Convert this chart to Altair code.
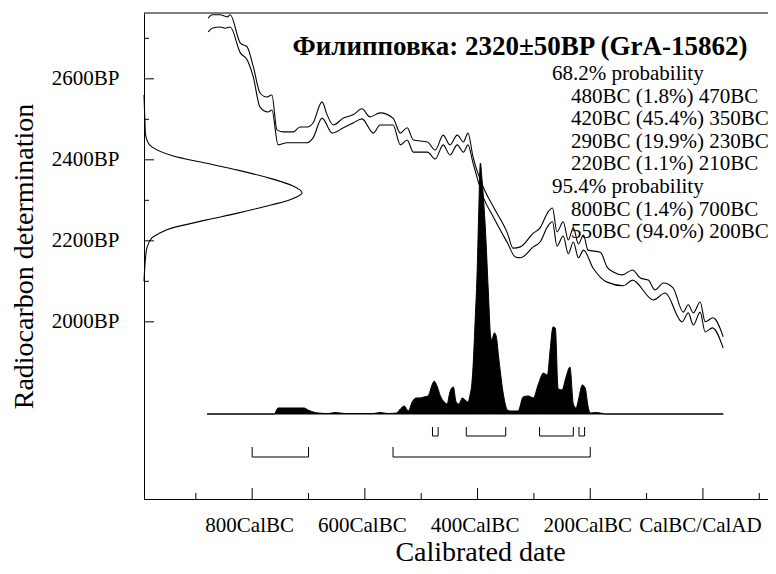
import altair as alt
import pandas as pd

FONT = "Liberation Serif"

# ---------------- data ----------------
# Calibration curve (+/- 1 sigma band), calendar year (negative = BC) vs BP
cal_up_year = [-878, -871, -857, -844, -839, -821, -809, -798, -786, -774, -765, -756, -745, -727,
               -715, -702, -692, -676, -667, -656, -638, -621, -605, -591, -573, -550, -537, -525,
               -514, -489, -475, -461, -449, -436, -425, -417, -408, -390, -372, -347, -337, -324,
               -301, -289, -275, -267, -259, -248, -239, -230, -221, -212, -204, -182, -170, -159,
               -143, -125, -111, -97, -85, -70, -53, -35, -26, -17, -5, 4, 18, 36]
cal_up_bp = [2750, 2758, 2758, 2753, 2758, 2688, 2679, 2630, 2565, 2555, 2560, 2474, 2469, 2469,
             2481, 2481, 2491, 2543, 2511, 2486, 2503, 2511, 2526, 2506, 2516, 2503, 2466, 2479,
             2449, 2444, 2424, 2461, 2437, 2461, 2444, 2466, 2407, 2333, 2284, 2219, 2182, 2185,
             2219, 2232, 2271, 2281, 2222, 2247, 2202, 2232, 2192, 2214, 2177, 2172, 2135, 2123,
             2116, 2128, 2108, 2103, 2079, 2096, 2084, 2024, 2042, 2022, 2049, 2000, 2010, 1963]
cal_lo_year = [-878, -871, -857, -848, -839, -821, -809, -798, -786, -772, -765, -754, -738, -715,
               -702, -692, -676, -658, -638, -621, -605, -585, -573, -550, -537, -525, -514, -489,
               -475, -461, -449, -436, -425, -417, -408, -390, -372, -347, -333, -324, -301, -289,
               -275, -267, -259, -248, -239, -230, -221, -212, -195, -170, -141, -125, -88, -67,
               -37, -26, -17, -5, 4, 17, 36]
cal_lo_bp = [2716, 2725, 2728, 2725, 2728, 2664, 2647, 2604, 2530, 2518, 2523, 2437, 2442, 2442,
             2442, 2454, 2503, 2466, 2479, 2491, 2501, 2466, 2486, 2486, 2437, 2449, 2419, 2419,
             2402, 2437, 2412, 2437, 2419, 2437, 2392, 2308, 2259, 2195, 2160, 2158, 2185, 2197,
             2237, 2247, 2187, 2212, 2168, 2197, 2158, 2177, 2133, 2098, 2089, 2103, 2054, 2071,
             2000, 2022, 1992, 2024, 1975, 1985, 1935]

# Radiocarbon measurement 2320 +/- 50 BP, relative probability (% of peak)
rc_bp = [2560, 2528, 2493, 2456, 2432, 2410, 2392, 2374, 2353, 2336, 2318, 2301, 2289, 2269,
         2251, 2232, 2219, 2207, 2185, 2160, 2135, 2100]
rc_prob = [0, 0.3, 0.6, 1.3, 5, 18, 39, 60, 81, 94, 100, 92, 81, 60, 39, 18, 10, 5, 2, 1, 0.5, 0]

# Calibrated date distribution (% of peak)
cd_year = [-880, -761, -754, -740, -708, -701, -683, -665, -653, -635, -585, -573, -559, -544,
           -537, -530, -523, -516, -509, -502, -495, -488, -480, -477, -472, -466, -459, -454,
           -449, -443, -438, -433, -427, -422, -417, -413, -410, -408, -404, -401, -398, -395,
           -392, -386, -381, -377, -375, -370, -367, -362, -354, -347, -342, -328, -319, -310,
           -301, -292, -283, -276, -271, -266, -262, -257, -250, -243, -236, -230, -225, -221,
           -214, -209, -204, -200, -191, -182, -173, 36]
cd_prob = [0, 0, 2.4, 2.4, 2.4, 1.6, 0.4, 0.2, 0.6, 0.2, 0.2, 0.6, 0.2, 0.4,
           2, 3.2, 1.2, 4.8, 6.4, 6.4, 6.8, 7.2, 12, 13.1, 11.2, 7.2, 4.8, 4,
           8.8, 10.8, 4.8, 4, 6.4, 5.6, 4.8, 8, 12.4, 18.7, 38.6, 54.6, 79.7, 100,
           93.2, 73.3, 49.4, 31.5, 29.5, 32.3, 31.1, 21.5, 7.6, 1.6, 1.2, 1.2, 6.8, 7.2,
           6.4, 12, 16.3, 15.5, 25.9, 34.7, 34.3, 10, 9.6, 14.7, 18.7, 4, 2.4, 5.6,
           11.6, 10.4, 3.2, 0.4, 0.6, 0.4, 0, 0]

# Probability ranges (years BC)
r68_from = [480, 420, 290, 220]
r68_to = [470, 350, 230, 210]
r68_pct = [1.8, 45.4, 19.9, 1.1]
r95_from = [800, 550]
r95_to = [700, 200]
r95_pct = [1.4, 94.0]

title_text = "Филипповка: 2320±50BP (GrA-15862)"

# axis ticks and labels
y_major = [2000, 2200, 2400, 2600]
y_major_labels = ["2000BP", "2200BP", "2400BP", "2600BP"]
y_minor = [2100, 2300, 2500, 2700]
x_major = [-800, -600, -400, -200, 0]
x_major_labels = ["800CalBC", "600CalBC", "400CalBC", "200CalBC", "CalBC/CalAD"]
x_minor = [-900, -700, -500, -300, -100, 100]

# ---------------- layout ----------------
W, H = 624, 486
X_DOM = [-992, 115.5]
Y_DOM = [1562.5, 2762.5]
D_DOM = [-33.86, 159.76]   # calibrated distribution scale
G_DOM = [0, 394.9]         # radiocarbon curve width scale


def xs():
    return alt.Scale(domain=X_DOM, nice=False, zero=False)


def ys():
    return alt.Scale(domain=Y_DOM, nice=False, zero=False)


def label_expr(values, labels):
    return "{}[indexof({}, datum.value)]".format(
        "[" + ",".join("'" + s + "'" for s in labels) + "]",
        "[" + ",".join(str(v) for v in values) + "]")


x_axis = alt.Axis(values=x_major, labelExpr=label_expr(x_major, x_major_labels),
                  ticks=False, grid=False, labelPadding=32,
                  labelBaseline="alphabetic", labelOffset=-3, labelFont=FONT, labelFontSize=21,
                  labelColor="black", domainColor="black", domainWidth=1,
                  title="Calibrated date", titleFont=FONT, titleFontSize=28,
                  titleFontWeight="normal", titleColor="black", titleX=336, titleY=61,
                  titleBaseline="alphabetic", labelOverlap=False, labelFlush=False)
y_axis = alt.Axis(values=y_major, labelExpr=label_expr(y_major, y_major_labels),
                  ticks=False, grid=False, labelPadding=25,
                  labelBaseline="middle", labelFont=FONT, labelFontSize=21,
                  labelColor="black", domainColor="black", domainWidth=1,
                  title="Radiocarbon determination", titleFont=FONT, titleFontSize=28,
                  titleFontWeight="normal", titleColor="black", titleX=-112,
                  titleBaseline="alphabetic", labelOverlap=False, labelFlush=False)

up_df = pd.DataFrame({"year": cal_up_year, "bp": cal_up_bp})
lo_df = pd.DataFrame({"year": cal_lo_year, "bp": cal_lo_bp})

cal_up = alt.Chart(up_df).mark_line(color="black", strokeWidth=1.1, interpolate="monotone").encode(
    x=alt.X("year:Q", scale=xs(), axis=x_axis),
    y=alt.Y("bp:Q", scale=ys(), axis=y_axis))
cal_lo = alt.Chart(lo_df).mark_line(color="black", strokeWidth=1.1, interpolate="monotone").encode(
    x=alt.X("year:Q", scale=xs(), axis=None),
    y=alt.Y("bp:Q", scale=ys(), axis=None))

ymaj = alt.Chart(pd.DataFrame({"bp": y_major})).mark_rule(color="black").encode(
    y=alt.Y("bp:Q", scale=ys(), axis=None), x=alt.value(0), x2=alt.value(10))
ymin = alt.Chart(pd.DataFrame({"bp": y_minor})).mark_rule(color="black").encode(
    y=alt.Y("bp:Q", scale=ys(), axis=None), x=alt.value(0), x2=alt.value(5))
xmaj = alt.Chart(pd.DataFrame({"year": x_major})).mark_rule(color="black").encode(
    x=alt.X("year:Q", scale=xs(), axis=None), y=alt.value(H), y2=alt.value(H - 11))
xmin = alt.Chart(pd.DataFrame({"year": x_minor})).mark_rule(color="black").encode(
    x=alt.X("year:Q", scale=xs(), axis=None), y=alt.value(H), y2=alt.value(H - 6))
one = pd.DataFrame({"a": [0]})
top_line = alt.Chart(one).mark_rule(color="black").encode(
    x=alt.value(0), x2=alt.value(W), y=alt.value(0))

# radiocarbon measurement curve on the y axis
rc_df = pd.DataFrame({"bp": rc_bp, "p": rc_prob})
gauss = alt.Chart(rc_df).mark_line(color="black", strokeWidth=1.1, interpolate="cardinal").encode(
    x=alt.X("p:Q", scale=alt.Scale(domain=G_DOM, nice=False, zero=False), axis=None),
    y=alt.Y("bp:Q", scale=ys(), axis=None),
    order="bp:Q")

# calibrated distribution
cd_df = pd.DataFrame({"year": cd_year, "p": cd_prob})
dist_area = alt.Chart(cd_df).mark_area(color="black", stroke="black", strokeWidth=1,
                                       interpolate="monotone").encode(
    x=alt.X("year:Q", scale=xs(), axis=None),
    y=alt.Y("p:Q", scale=alt.Scale(domain=D_DOM, nice=False, zero=False), axis=None),
    y2=alt.datum(0))


def brackets(starts, ends, top, bottom):
    df = pd.DataFrame({"s": [-v for v in starts], "e": [-v for v in ends]})
    base = alt.Chart(df).mark_rule(color="black", strokeWidth=1)
    h = base.encode(x=alt.X("s:Q", scale=xs(), axis=None), x2="e:Q", y=alt.value(bottom))
    l = base.encode(x=alt.X("s:Q", scale=xs(), axis=None), y=alt.value(top), y2=alt.value(bottom))
    r = base.encode(x=alt.X("e:Q", scale=xs(), axis=None), y=alt.value(top), y2=alt.value(bottom))
    return [h, l, r]


# text block
hdr_rows = [0, 1 + len(r68_from)]
hdr_txt = ["68.2% probability", "95.4% probability"]
rng_txt = ["{}BC ({:.1f}%) {}BC".format(a, p, b) for a, p, b in zip(r68_from, r68_pct, r68_to)] + \
          ["{}BC ({:.1f}%) {}BC".format(a, p, b) for a, p, b in zip(r95_from, r95_pct, r95_to)]
rng_rows = [1 + i for i in range(len(r68_from))] + [2 + len(r68_from) + i for i in range(len(r95_from))]
n_rows = 2 + len(r68_from) + len(r95_from)
LH = 22.6
row_scale = alt.Scale(domain=[0, n_rows - 1], range=[67, 67 + LH * (n_rows - 1)])

hdr = alt.Chart(pd.DataFrame({"t": hdr_txt, "row": hdr_rows})).mark_text(
    font=FONT, fontSize=21, align="left", baseline="alphabetic", color="black").encode(
    x=alt.value(408), y=alt.Y("row:Q", scale=row_scale, axis=None), text="t:N")
rng = alt.Chart(pd.DataFrame({"t": rng_txt, "row": rng_rows})).mark_text(
    font=FONT, fontSize=21, align="left", baseline="alphabetic", color="black").encode(
    x=alt.value(427), y=alt.Y("row:Q", scale=row_scale, axis=None), text="t:N")
ttl = alt.Chart(one).mark_text(font=FONT, fontSize=27, fontWeight="bold", align="center",
                               baseline="alphabetic", color="black").encode(
    x=alt.value(376), y=alt.value(42), text=alt.value(title_text))

chart = alt.layer(
    cal_up, cal_lo, gauss, dist_area,
    *brackets(r68_from, r68_to, 414, 423),
    *brackets(r95_from, r95_to, 434, 444),
    ymaj, ymin, xmaj, xmin, top_line, hdr, rng, ttl
).resolve_scale(
    x="independent", y="independent"
).properties(
    width=W, height=H,
    autosize=alt.AutoSizeParams(type="none"),
    padding={"left": 136, "top": 5, "right": 0, "bottom": 67},
    background="white",
).configure_view(stroke=None)

chart.save("out.html", embed_options={"renderer": "svg", "actions": False})
